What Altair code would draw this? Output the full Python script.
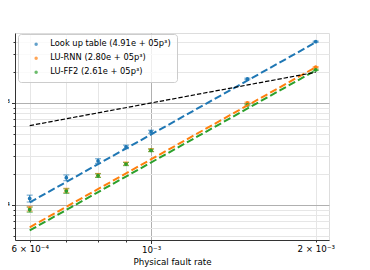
import altair as alt
import pandas as pd

# ---- data ----
p_vals = [6e-4, 7e-4, 8e-4, 9e-4, 1e-3, 1.5e-3, 2e-3]
series_names = ["Look up table (4.91e + 05p³)", "LU-RNN (2.80e + 05p³)", "LU-FF2 (2.61e + 05p³)"]
series_colors = ["#1f77b4", "#ff7f0e", "#2ca02c"]
fit_coefs = [4.91e5, 2.80e5, 2.61e5]

lut_rate = [1.16e-4, 1.85e-4, 2.70e-4, 3.71e-4, 5.23e-4, 1.72e-3, 3.99e-3]
lut_err = [9e-6, 1.2e-5, 1.4e-5, 1.5e-5, 1.8e-5, 3.0e-5, 5.0e-5]
rnn_rate = [9.2e-5, 1.39e-4, 1.96e-4, 2.55e-4, 3.46e-4, 1.00e-3, 2.24e-3]
rnn_err = [5e-6, 7e-6, 8e-6, 9e-6, 1.0e-5, 2.0e-5, 3.0e-5]
ff2_rate = [9.0e-5, 1.37e-4, 1.94e-4, 2.52e-4, 3.43e-4, 9.56e-4, 2.11e-3]
ff2_err = [5e-6, 7e-6, 8e-6, 9e-6, 1.0e-5, 2.0e-5, 3.0e-5]

ref_p = [6e-4, 2e-3]  # physical = logical reference line

x_tick_vals = [6e-4, 7e-4, 8e-4, 9e-4, 1e-3, 2e-3]
x_tick_labels = ["6 × 10⁻⁴", "", "", "", "10⁻³", "2 × 10⁻³"]
x_major = [1e-3]
y_tick_vals = [5e-5, 6e-5, 7e-5, 8e-5, 9e-5, 1e-4, 2e-4, 3e-4, 4e-4, 5e-4, 6e-4,
               7e-4, 8e-4, 9e-4, 1e-3, 2e-3, 3e-3, 4e-3]
y_tick_labels = ["", "", "", "", "", "10⁻⁴", "", "", "", "", "", "", "", "", "10⁻³", "", "", ""]
y_major = [1e-4, 1e-3]

x_domain = [5.64e-4, 2.115e-3]
y_domain = [4.54e-5, 4.85e-3]

# ---- tables ----
rates = [lut_rate, rnn_rate, ff2_rate]
errs = [lut_err, rnn_err, ff2_err]
pts_rows, fit_rows = [], []
for i, name in enumerate(series_names):
    for p, r, e in zip(p_vals, rates[i], errs[i]):
        pts_rows.append({"series": name, "order": i, "p": p, "rate": r, "lo": r - e, "hi": r + e})
    for p in [p_vals[0], p_vals[-1]]:
        fit_rows.append({"series": name, "order": i, "p": p, "fit": fit_coefs[i] * p ** 3})
pts = pd.DataFrame(pts_rows)
fits = pd.DataFrame(fit_rows)
ref = pd.DataFrame({"p": ref_p, "rate": ref_p})


def label_expr(vals, labels):
    parts = [f"datum.value == {v!r} ? '{l}'" for v, l in zip(vals, labels) if l]
    return " : ".join(parts) + " : ''"


def major_test(vals):
    return " || ".join(f"abs(datum.value - {v!r}) < {v * 1e-6!r}" for v in vals)


FONT = "DejaVu Sans"
FS = 8.7

xscale = alt.Scale(type="log", domain=x_domain, nice=False, zero=False)
yscale = alt.Scale(type="log", domain=y_domain, nice=False, zero=False)

xaxis = alt.Axis(
    values=x_tick_vals, labelExpr=label_expr(x_tick_vals, x_tick_labels),
    title="Physical fault rate", titleFont=FONT, titleFontSize=FS, titleFontWeight="normal",
    titleColor="black", titlePadding=3,
    labelFont=FONT, labelFontSize=FS, labelColor="black", labelPadding=2, labelFlush=False,
    labelOverlap=False,
    tickColor="#333333",
    tickSize={"condition": {"test": major_test(x_major), "value": 3.5}, "value": 2},
    gridColor={"condition": {"test": major_test(x_major), "value": "#b0b0b0"}, "value": "#e6e6e6"},
    gridWidth=1, domainColor="#333333", domainWidth=1,
)
yaxis = alt.Axis(
    values=y_tick_vals, labelExpr=label_expr(y_tick_vals, y_tick_labels), title=None,
    labelFont=FONT, labelFontSize=FS, labelColor="black", labelPadding=2,
    labelOverlap=False, labelFlush=False,
    tickColor="#333333",
    tickSize={"condition": {"test": major_test(y_major), "value": 3.5}, "value": 2},
    gridColor={"condition": {"test": major_test(y_major), "value": "#b0b0b0"}, "value": "#e6e6e6"},
    gridWidth=1, domainColor="#333333", domainWidth=1,
)

color_scale = alt.Scale(domain=series_names, range=series_colors)
legend = alt.Legend(
    title=None, orient="none", legendX=3, legendY=1,
    fillColor="rgba(255,255,255,0.8)", strokeColor="#cccccc", cornerRadius=3,
    padding=6, symbolType="circle", symbolSize=12, symbolStrokeWidth=0,
    symbolOffset=8, labelOffset=10, rowPadding=5,
    labelFont=FONT, labelFontSize=8.3, labelColor="black", labelLimit=300)
color_enc = alt.Color("series:N", scale=color_scale, legend=legend)

base_pts = alt.Chart(pts)

err_rule = base_pts.mark_rule(strokeWidth=1).encode(
    x=alt.X("p:Q", scale=xscale, axis=xaxis),
    y=alt.Y("lo:Q", scale=yscale, axis=yaxis),
    y2="hi:Q",
    color=color_enc,
)
cap_lo = base_pts.mark_tick(orient="horizontal", size=6, thickness=1).encode(
    x="p:Q", y="lo:Q", color=color_enc)
cap_hi = base_pts.mark_tick(orient="horizontal", size=6, thickness=1).encode(
    x="p:Q", y="hi:Q", color=color_enc)
dots = base_pts.mark_circle(size=14, opacity=1).encode(
    x="p:Q", y="rate:Q", color=color_enc)

fit_lines = alt.Chart(fits).mark_line(strokeWidth=2, strokeDash=[7.4, 3.2]).encode(
    x="p:Q", y="fit:Q", color=color_enc, detail="series:N",
)

ref_line = alt.Chart(ref).mark_line(strokeWidth=1.2, strokeDash=[4.4, 1.9], color="black").encode(
    x="p:Q", y="rate:Q")

chart = alt.layer(err_rule, cap_lo, cap_hi, dots, fit_lines, ref_line).properties(
    width=314, height=207,
    autosize=alt.AutoSizeParams(type="none"),
    padding={"left": 7, "top": 25, "right": 33, "bottom": 30},
).configure_view(stroke="#333333", strokeWidth=1).configure(background="white")

chart.save("out.html", embed_options={"renderer": "svg", "actions": False})
